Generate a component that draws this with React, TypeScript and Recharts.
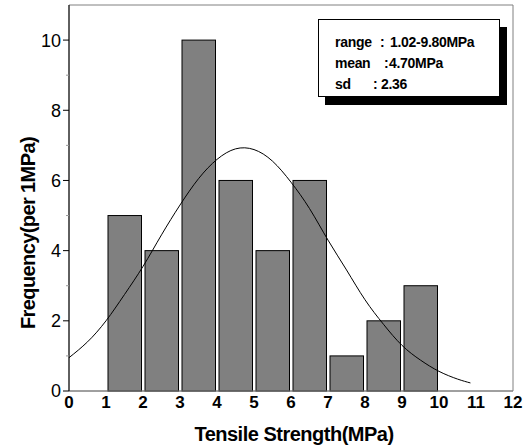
import React from 'react';
import { ComposedChart, Line, XAxis, YAxis, ReferenceArea } from 'recharts';

// histogram bins (MPa) and counts
const binStarts = [1, 2, 3, 4, 5, 6, 7, 8, 9];
const binEnds = [2, 3, 4, 5, 6, 7, 8, 9, 10];
const counts = [5, 4, 10, 6, 4, 6, 1, 2, 3];

// fitted curve
const curveX = [0, 0.5, 1, 1.5, 2, 2.5, 3, 3.5, 4, 4.5, 5, 5.5, 6, 6.5, 7, 7.5, 8, 8.5, 9, 9.5, 10, 10.5, 10.85];
const curveY = [0.95, 1.4, 2.0, 2.75, 3.55, 4.45, 5.3, 6.05, 6.6, 6.9, 6.88, 6.55, 5.95, 5.2, 4.3, 3.45, 2.6, 1.9, 1.3, 0.88, 0.56, 0.34, 0.23];

const xTicks = [0, 1, 2, 3, 4, 5, 6, 7, 8, 9, 10, 11, 12];
const yTicks = [0, 1, 2, 3, 4, 5, 6, 7, 8, 9, 10];

const statLabels = ['range', 'mean', 'sd'];
const statValues = ['1.02-9.80MPa', '4.70MPa', '2.36'];

const curveData = curveX.map((x, i) => ({ x, y: curveY[i] }));

const FONT = '"Liberation Sans", Arial, sans-serif';

const BarShape = (props: any) => {
  const { x, y, width, height } = props;
  return <rect x={x + 2} y={y} width={width - 3.5} height={height} fill="#808080" stroke="#000" strokeWidth={1} />;
};

const YTick = (props: any) => {
  const { x, y, payload } = props;
  const major = payload.value % 2 === 0;
  return (
    <g>
      {major ? (
        <line x1={x + 2} x2={x + 8} y1={y} y2={y} stroke="#000" />
      ) : (
        <line x1={x + 5} x2={x + 8} y1={y} y2={y} stroke="#999" />
      )}
      {major && (
        <text x={x} y={y} dy="0.36em" textAnchor="end" fontSize={18} fontFamily={FONT} fill="#000">
          {payload.value}
        </text>
      )}
    </g>
  );
};

const XTick = (props: any) => {
  const { x, y, payload } = props;
  return (
    <text x={x} y={y} dy="0.75em" textAnchor="middle" fontSize={17} fontWeight="bold" fontFamily={FONT} fill="#000">
      {payload.value}
    </text>
  );
};

const YLabel = () => (
  <text x={35} y={233} transform="rotate(-90 35 233)" textAnchor="middle" fontSize={20} fontWeight="bold" fontFamily={FONT} fill="#000" letterSpacing={-0.6}>
    Frequency(per 1MPa)
  </text>
);

const XLabel = () => (
  <text x={294} y={441} textAnchor="middle" fontSize={20} fontWeight="bold" fontFamily={FONT} fill="#000" letterSpacing={-0.5}>
    Tensile Strength(MPa)
  </text>
);

const colonX = [380, 384, 373];
const valueX = [390, 389, 381];

export default function App() {
  return (
    <div style={{ position: 'fixed', left: 0, top: 0, width: 524, height: 447, background: '#fff' }}>
      <ComposedChart width={524} height={447} data={curveData} margin={{ top: 5, right: 11, left: 0, bottom: 0 }}>
        <XAxis
          dataKey="x"
          type="number"
          domain={[0, 12]}
          ticks={xTicks}
          interval={0}
          stroke="#808080"
          tickLine={false}
          tickSize={0}
          tickMargin={4}
          height={56}
          tick={<XTick />}
          label={<XLabel />}
          allowDataOverflow
        />
        <YAxis
          type="number"
          domain={[0, 11]}
          ticks={yTicks}
          interval={0}
          stroke="#000"
          tickLine={false}
          tickSize={6}
          tickMargin={2}
          width={69}
          tick={<YTick />}
          label={<YLabel />}
          allowDataOverflow
        />
        <ReferenceArea x1={0} x2={12} y1={0} y2={11} fill="none" stroke="#808080" fillOpacity={0} ifOverflow="visible" />
        {counts.map((c, i) => (
          <ReferenceArea key={i} x1={binStarts[i]} x2={binEnds[i]} y1={0} y2={c} shape={<BarShape />} ifOverflow="visible" />
        ))}
        <Line type="natural" dataKey="y" stroke="#000" strokeWidth={1} dot={false} isAnimationActive={false} />
      </ComposedChart>
      <div
        style={{
          position: 'absolute',
          left: 318,
          top: 19,
          width: 180,
          height: 76,
          border: '1px solid #000',
          boxShadow: '7px 8px 0 #000',
          background: '#fff',
          fontFamily: FONT,
          fontWeight: 'bold',
          fontSize: 14,
          letterSpacing: -0.3,
          color: '#000',
        }}
      >
        {statLabels.map((s, i) => (
          <React.Fragment key={s}>
            <span style={{ position: 'absolute', left: 335 - 319, top: 14 + i * 21 }}>{s}</span>
            <span style={{ position: 'absolute', left: colonX[i] - 319, top: 14 + i * 21 }}>:</span>
            <span style={{ position: 'absolute', left: valueX[i] - 319, top: 14 + i * 21 }}>{statValues[i]}</span>
          </React.Fragment>
        ))}
      </div>
    </div>
  );
}
